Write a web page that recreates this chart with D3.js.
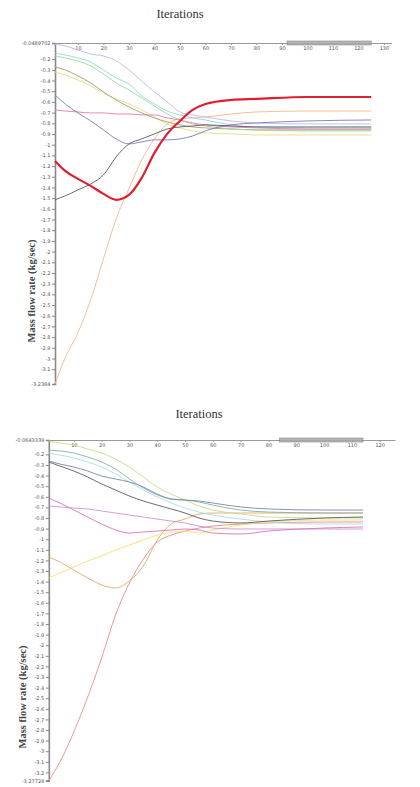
<!DOCTYPE html>
<html>
<head>
<meta charset="utf-8">
<style>
  body { margin: 0; background: #fff; }
  .tick text { font-family: "DejaVu Sans", sans-serif; fill: #555; }
  .title { font-family: "Liberation Serif", serif; fill: #333; }
</style>
<title>Mass flow rate vs iterations</title>
</head>
<body>
<script src="https://cdn.jsdelivr.net/npm/d3@7/dist/d3.min.js"></script>
<script>

// ---- data: upper chart ----
var iters1 = [1, 5, 10, 15, 20, 25, 30, 35, 40, 45, 50, 55, 60, 70, 80, 100, 125];
var yTop1 = -0.0489702, yBottom1 = -3.2384;
var xTicks1 = [10, 20, 30, 40, 50, 60, 70, 80, 90, 100, 110, 120, 130];
var slider1 = [92, 125];

var p1Orange = [-3.236, -2.993, -2.759, -2.451, -2.068, -1.694, -1.413, -1.142, -0.946, -0.806, -0.759, -0.750, -0.741, -0.713, -0.694, -0.685, -0.685];
var p1Dark   = [-1.516, -1.479, -1.423, -1.367, -1.283, -1.114, -0.993, -0.946, -0.899, -0.853, -0.834, -0.825, -0.815, -0.825, -0.834, -0.834, -0.834];
var p1Blue   = [-0.535, -0.619, -0.703, -0.778, -0.862, -0.946, -0.993, -0.974, -0.955, -0.955, -0.946, -0.918, -0.871, -0.815, -0.797, -0.778, -0.769];
var p1Pink   = [-0.675, -0.685, -0.694, -0.703, -0.703, -0.713, -0.713, -0.722, -0.722, -0.750, -0.769, -0.797, -0.815, -0.834, -0.843, -0.853, -0.853];
var p1Lav    = [-0.058, -0.077, -0.114, -0.152, -0.170, -0.217, -0.301, -0.404, -0.507, -0.600, -0.694, -0.722, -0.741, -0.778, -0.797, -0.806, -0.806];
var p1Cyan   = [-0.142, -0.161, -0.189, -0.227, -0.301, -0.376, -0.432, -0.544, -0.619, -0.685, -0.722, -0.750, -0.769, -0.815, -0.834, -0.843, -0.843];
var p1Green  = [-0.170, -0.189, -0.217, -0.264, -0.339, -0.423, -0.488, -0.563, -0.638, -0.713, -0.769, -0.806, -0.825, -0.853, -0.862, -0.871, -0.871];
var p1Olive  = [-0.273, -0.301, -0.357, -0.423, -0.507, -0.582, -0.647, -0.703, -0.750, -0.787, -0.815, -0.834, -0.843, -0.853, -0.862, -0.862, -0.862];
var p1Yellow = [-0.320, -0.348, -0.395, -0.451, -0.516, -0.572, -0.619, -0.675, -0.741, -0.806, -0.843, -0.871, -0.890, -0.899, -0.909, -0.909, -0.909];
var p1Red    = [-1.152, -1.245, -1.320, -1.385, -1.460, -1.516, -1.470, -1.311, -1.077, -0.899, -0.778, -0.675, -0.619, -0.582, -0.572, -0.554, -0.554];

// ---- data: lower chart ----
var iters2 = [1, 5, 10, 15, 20, 25, 30, 35, 40, 45, 50, 55, 60, 70, 80, 100, 114];
var yTop2 = -0.0643339, yBottom2 = -3.27724;
var xTicks2 = [10, 20, 30, 40, 50, 60, 70, 80, 90, 100, 110, 120];
var slider2 = [84, 114];

var p2Green  = [-0.074, -0.093, -0.112, -0.150, -0.187, -0.244, -0.319, -0.414, -0.508, -0.574, -0.631, -0.687, -0.725, -0.762, -0.791, -0.800, -0.800];
var p2Teal   = [-0.159, -0.168, -0.187, -0.225, -0.272, -0.338, -0.432, -0.517, -0.583, -0.621, -0.631, -0.649, -0.678, -0.725, -0.744, -0.753, -0.753];
var p2Cyan   = [-0.187, -0.206, -0.234, -0.272, -0.319, -0.385, -0.461, -0.536, -0.602, -0.659, -0.706, -0.744, -0.772, -0.810, -0.838, -0.857, -0.857];
var p2Blue   = [-0.262, -0.291, -0.319, -0.357, -0.404, -0.432, -0.461, -0.508, -0.574, -0.621, -0.631, -0.640, -0.659, -0.696, -0.715, -0.725, -0.725];
var p2Dark   = [-0.272, -0.310, -0.357, -0.414, -0.479, -0.536, -0.593, -0.640, -0.678, -0.715, -0.753, -0.800, -0.829, -0.847, -0.829, -0.800, -0.791];
var p2Pink   = [-0.612, -0.659, -0.725, -0.791, -0.857, -0.913, -0.942, -0.932, -0.923, -0.913, -0.904, -0.913, -0.942, -0.951, -0.923, -0.895, -0.885];
var p2Lav    = [-0.687, -0.696, -0.706, -0.715, -0.734, -0.753, -0.772, -0.791, -0.810, -0.829, -0.847, -0.876, -0.895, -0.904, -0.904, -0.904, -0.904];
var p2Yellow = [-1.366, -1.319, -1.262, -1.206, -1.159, -1.102, -1.055, -1.008, -0.961, -0.932, -0.923, -0.942, -0.913, -0.866, -0.838, -0.819, -0.819];
var p2Orange = [-1.168, -1.215, -1.291, -1.366, -1.432, -1.460, -1.394, -1.253, -1.008, -0.857, -0.810, -0.763, -0.753, -0.753, -0.753, -0.753, -0.753];
var p2Red    = [-3.277, -3.102, -2.819, -2.489, -2.121, -1.715, -1.413, -1.187, -1.027, -0.961, -0.923, -0.895, -0.876, -0.857, -0.847, -0.838, -0.838];

var svg = d3.select("body").append("svg")
    .attr("width", 420)
    .attr("height", 787);

function fmt(v) {
  return String(Math.round(v * 10) / 10);
}

function drawPanel(p) {
  var g = svg.append("g");

  var x = d3.scaleLinear().domain(p.xDomain).range([p.left, p.right]);
  var y = d3.scaleLinear().domain([p.yTop, p.yBottom]).range([p.top, p.bottom]);

  // title
  g.append("text")
    .attr("class", "title")
    .attr("x", p.titleX).attr("y", p.titleY)
    .attr("text-anchor", "middle")
    .style("font-size", "12.5px")
    .text("Iterations");

  // y label
  g.append("text")
    .attr("class", "title")
    .attr("transform", "translate(" + p.labelX + "," + p.labelY + ") rotate(-90)")
    .attr("text-anchor", "middle")
    .style("font-size", "10.5px")
    .style("font-weight", "bold")
    .style("fill", "#444")
    .text("Mass flow rate (kg/sec)");

  // y axis
  var yTicks = [p.yTop].concat(d3.range(-2, Math.round(p.yBottom * 10), -1).map(function(d) { return d / 10; }), [p.yBottom]);
  var yAxis = d3.axisLeft(y)
    .tickValues(yTicks)
    .tickSize(3)
    .tickPadding(1.5)
    .tickFormat(function(d) { return (d === p.yTop || d === p.yBottom) ? String(d) : fmt(d); });
  var ya = g.append("g")
    .attr("transform", "translate(" + p.left + ",0)")
    .call(yAxis);
  ya.selectAll("text").style("font-size", "5px");
  ya.select(".domain").attr("stroke", "#888").attr("stroke-width", 1.6);
  ya.selectAll(".tick line").attr("stroke", "#888");

  // x axis on top
  var xAxis = d3.axisBottom(x)
    .tickValues(p.xTicks)
    .tickSize(2)
    .tickPadding(1.5)
    .tickSizeOuter(0);
  var xa = g.append("g")
    .attr("transform", "translate(0," + p.top + ")")
    .call(xAxis);
  xa.selectAll("text").style("font-size", "5px");
  xa.select(".domain").attr("stroke", "#999").attr("stroke-width", 1.2);
  xa.selectAll(".tick line").attr("stroke", "#999");

  // the grey bar sitting on the axis
  g.append("rect")
    .attr("x", x(p.slider[0]))
    .attr("y", p.top - 2)
    .attr("width", x(p.slider[1]) - x(p.slider[0]))
    .attr("height", 4)
    .attr("fill", "#aaa")
    .attr("stroke", "#777")
    .attr("stroke-width", 0.6)
    .attr("opacity", 0.85);

  var line = d3.line()
    .x(function(d) { return x(d[0]); })
    .y(function(d) { return y(d[1]); })
    .curve(d3.curveMonotoneX);

  g.selectAll("path.series")
    .data(p.series)
    .enter().append("path")
    .attr("class", "series")
    .attr("fill", "none")
    .attr("stroke", function(d) { return d.color; })
    .attr("stroke-width", function(d) { return d.width || 0.9; })
    .attr("d", function(d) {
      return line(p.iters.map(function(it, i) { return [it, d.values[i]]; }));
    });
}

drawPanel({
  iters: iters1, xDomain: [1, 133], yTop: yTop1, yBottom: yBottom1,
  xTicks: xTicks1, slider: slider1,
  left: 55, right: 391.6, top: 43, bottom: 384,
  titleX: 180, titleY: 18, labelX: 35, labelY: 291,
  series: [
    {values: p1Orange, color: "#f6b88a"},
    {values: p1Yellow, color: "#e6df7c"},
    {values: p1Olive,  color: "#a89a6c"},
    {values: p1Green,  color: "#9ed89a"},
    {values: p1Cyan,   color: "#8fd6da"},
    {values: p1Lav,    color: "#c4b4e6"},
    {values: p1Pink,   color: "#e67aa8"},
    {values: p1Blue,   color: "#7c7cb8"},
    {values: p1Dark,   color: "#5a5a68"},
    {values: p1Red,    color: "#e01e30", width: 2.2}
  ]
});

drawPanel({
  iters: iters2, xDomain: [1, 125.5], yTop: yTop2, yBottom: yBottom2,
  xTicks: xTicks2, slider: slider2,
  left: 48.8, right: 395, top: 440, bottom: 780.6,
  titleX: 199, titleY: 418, labelX: 26, labelY: 697,
  series: [
    {values: p2Red,    color: "#f08a8a"},
    {values: p2Orange, color: "#e8a868"},
    {values: p2Yellow, color: "#f2e070"},
    {values: p2Lav,    color: "#c496d2"},
    {values: p2Pink,   color: "#e070b8"},
    {values: p2Cyan,   color: "#a8dce8"},
    {values: p2Green,  color: "#c2dc90"},
    {values: p2Teal,   color: "#88b0a0"},
    {values: p2Blue,   color: "#7888a8"},
    {values: p2Dark,   color: "#5a5a6a"}
  ]
});

</script>
</body>
</html>
